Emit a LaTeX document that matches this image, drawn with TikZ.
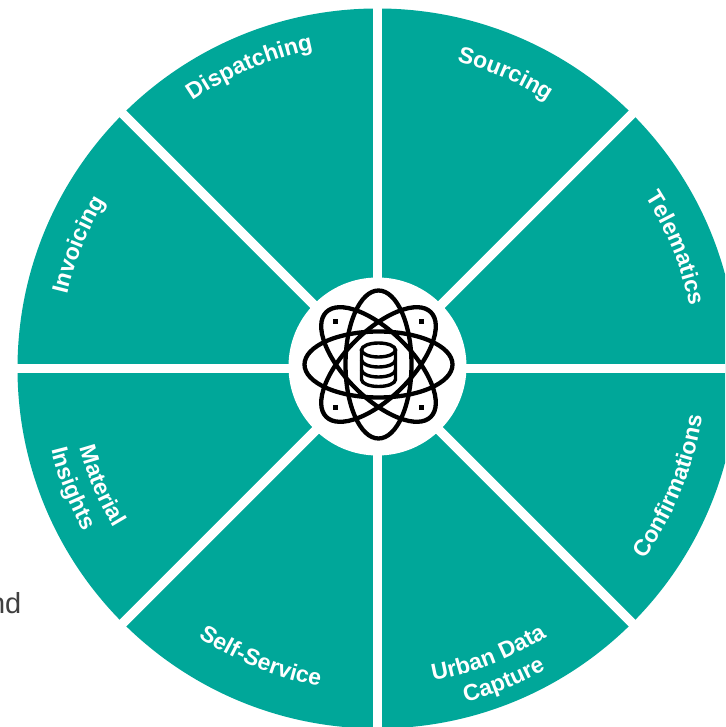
\documentclass[tikz,border=0pt]{standalone}
\usepackage{fontspec}
\usepackage{tikz}
\usetikzlibrary{decorations.text}
\setsansfont{Liberation Sans}
\definecolor{wheelteal}{RGB}{0,167,153}
\definecolor{textgrey}{RGB}{64,64,64}
\newcommand{\lblfont}{\sffamily\bfseries\fontsize{23}{23}\selectfont\color{white}}

\begin{document}
\begin{tikzpicture}
  [x=1pt,y=1pt,
   spoke/.style={draw=white,line width=9.5pt},
   orbit/.style={draw=black,line width=4.3pt},
   drum/.style={draw=black,line width=3.4pt},
   atom/.style={fill=black,minimum size=5pt,inner sep=0pt}]

  \clip (-377.5,-358.5) rectangle (347.5,368.5);
  \coordinate (c) at (0,0);
  \fill[wheelteal] (c) circle (360);

  % spokes
  \foreach \ang in {0,45,...,315} {
    \coordinate (rim\ang) at (\ang:375);
    \draw[spoke] (c) -- (rim\ang);
  }
  \node[circle,fill=white,minimum size=178pt,inner sep=0pt] (hub) at (0,2) {};

  % labels, top half reads clockwise
  \foreach \lbl/\ang/\rad in {Sourcing/66.5/317,Telematics/22/318,Dispatching/113/325,Invoicing/157.5/319} {
    \edef\temp{\noexpand\path[postaction={decorate,decoration={text along path,text align=center,
      text={|\noexpand\lblfont|\lbl}}}] (\ang+60:\rad) arc[start angle=\ang+60,end angle=\ang-60,radius=\rad];}
    \temp
  }
  % labels, bottom half reads counterclockwise
  \foreach \lbl/\ang/\rad in {Confirmations/-22/328,Urban Data/-68.8/317,Capture/-68/345,Self-Service/-112/323,Material/-157/308,Insights/-158.5/336} {
    \edef\temp{\noexpand\path[postaction={decorate,decoration={text along path,text align=center,
      text={|\noexpand\lblfont|\lbl}}}] (\ang-60:\rad) arc[start angle=\ang-60,end angle=\ang+60,radius=\rad];}
    \temp
  }

  % icon
  \begin{scope}[shift={(1,4)}]
    \draw[orbit] (0,0) ellipse (74 and 33);
    \draw[orbit] (0,0) ellipse (33 and 74);
    \draw[orbit,rotate=45] (0,0) ellipse (74 and 33);
    \draw[orbit,rotate=-45] (0,0) ellipse (74 and 33);
    \node[atom] (a1) at (-43,43) {};
    \node[atom] (a2) at (43,43) {};
    \node[atom] (a3) at (-43,-43) {};
    \node[atom] (a4) at (43,-43) {};
    \draw[drum] (0,14.5) ellipse (17 and 7);
    \draw[drum] (-17,14.5) -- (-17,-15) arc[start angle=180,end angle=360,x radius=17,y radius=7] -- (17,14.5);
    \draw[drum] (-17,4.5) arc[start angle=180,end angle=360,x radius=17,y radius=7];
    \draw[drum] (-17,-5.5) arc[start angle=180,end angle=360,x radius=17,y radius=7];
  \end{scope}

  \node[anchor=base east,inner sep=0pt,text=textgrey,font=\sffamily\fontsize{29}{29}\selectfont] (cut) at (-356,-245) {nd};
\end{tikzpicture}
\end{document}
